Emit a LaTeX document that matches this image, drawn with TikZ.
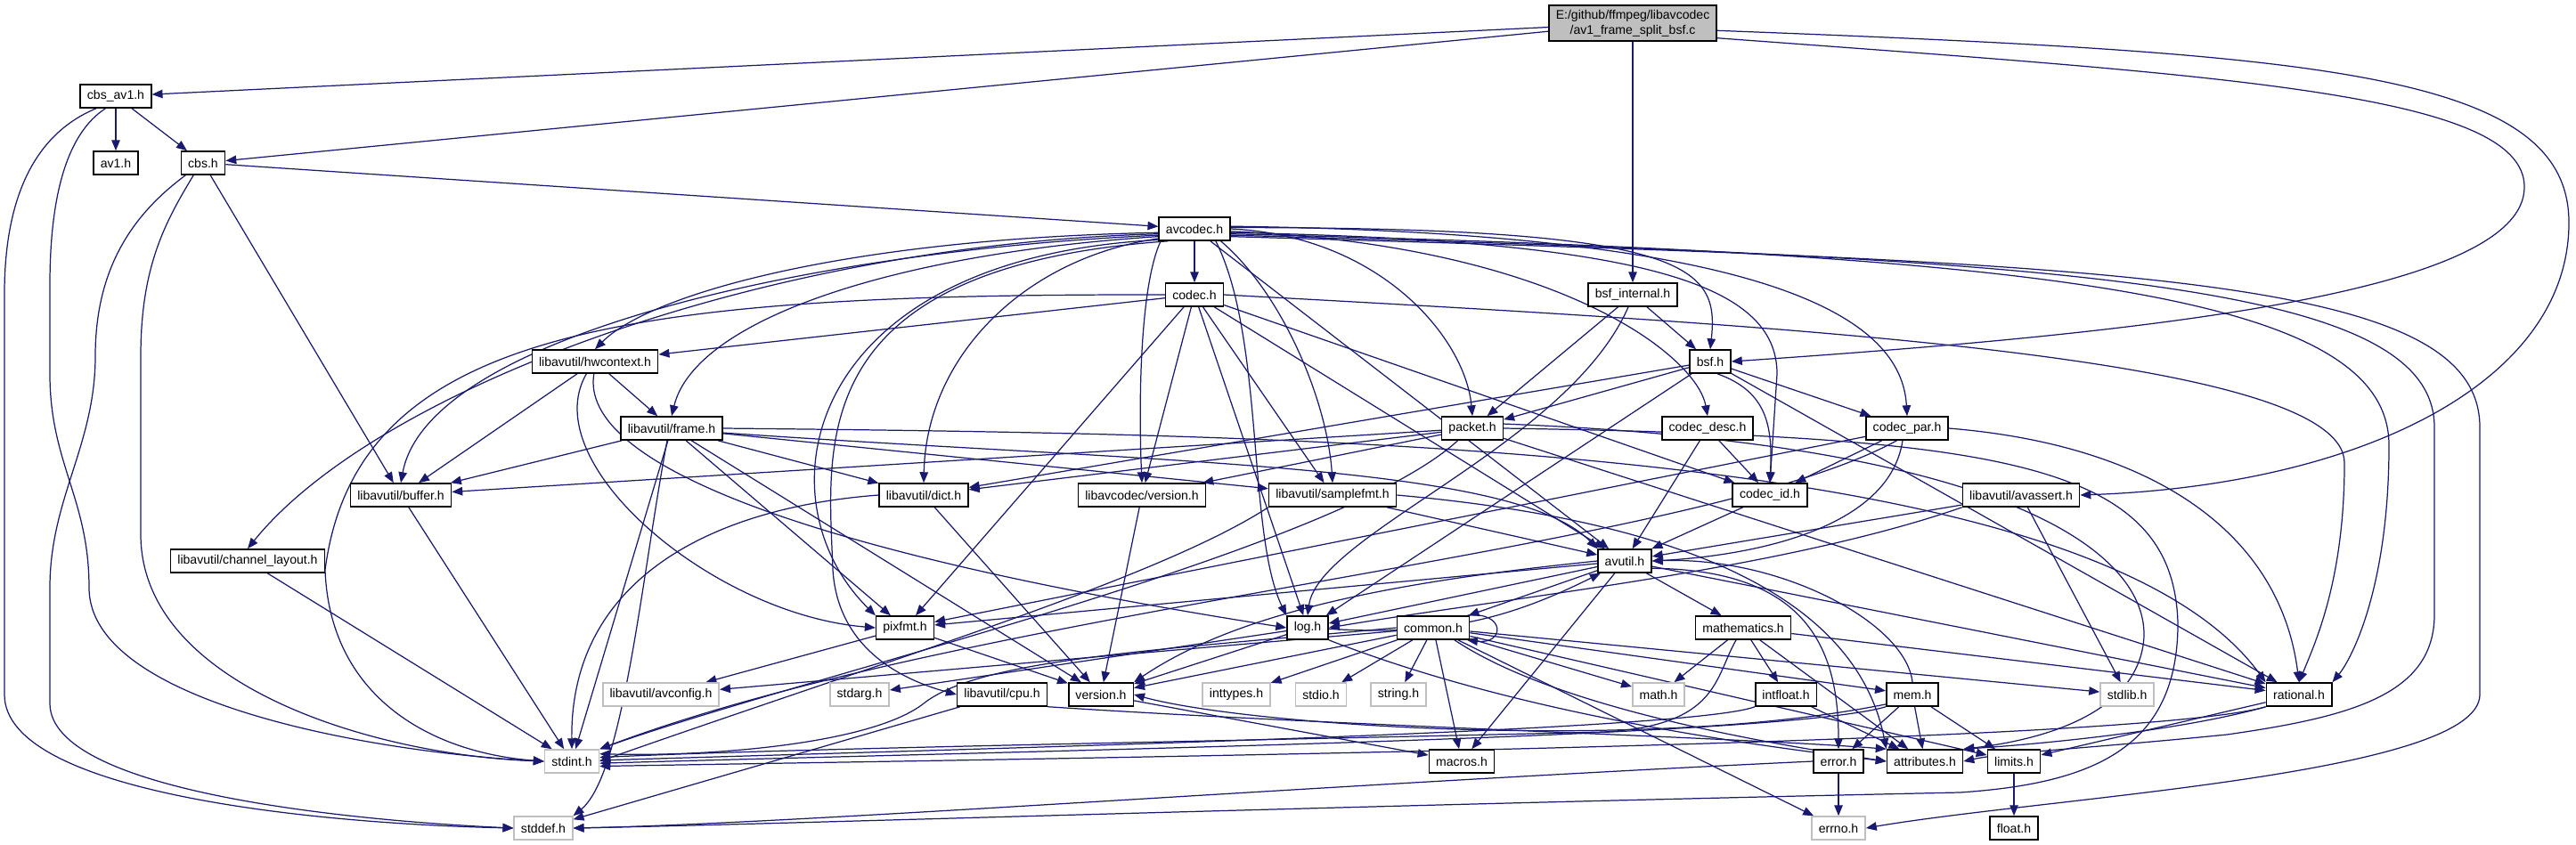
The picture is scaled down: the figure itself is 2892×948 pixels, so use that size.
\documentclass[tikz,border=0pt]{standalone}
\usepackage{fontspec}
\setmainfont{Liberation Sans}
\usetikzlibrary{arrows.meta,backgrounds}

\definecolor{edgeblue}{HTML}{191970}
\definecolor{sysgray}{HTML}{BFBFBF}

\begin{document}
\begin{tikzpicture}[font=\fontsize{4}{4.8}\selectfont,x=0.01cm,y=-0.01cm]
    \tikzset{
        file/.style={
            draw=black,
            fill=white,
            line width=0.45pt,
            minimum height=0.26cm,
            inner xsep=2.2pt,
            inner ysep=0pt
        },
        sysfile/.style={file,draw=sysgray},
        mainfile/.style={file,fill=sysgray,align=center,minimum height=0.40cm},
        dep/.style={draw=edgeblue,line width=0.35pt,-{Triangle[length=3.4pt,width=2.7pt]}}
    }

    \useasboundingbox (0,0) rectangle (2892,948);

    \node[mainfile] (root) at (1833,26)
        {E:/github/ffmpeg/libavcodec\\/av1\_frame\_split\_bsf.c};
    \node[file] (cbsav1) at (130,108) {cbs\_av1.h};
    \node[file] (avone) at (130,183) {av1.h};
    \node[file] (cbs) at (228,183) {cbs.h};
    \node[file] (avcodec) at (1341,257) {avcodec.h};
    \node[file] (codec) at (1341,331) {codec.h};
    \node[file] (bsfint) at (1833,331) {bsf\_internal.h};
    \node[file] (hwctx) at (668,406) {libavutil/hwcontext.h};
    \node[file] (bsf) at (1920,406) {bsf.h};
    \node[file] (frame) at (754,481) {libavutil/frame.h};
    \node[file] (packet) at (1653,481) {packet.h};
    \node[file] (cdesc) at (1917,481) {codec\_desc.h};
    \node[file] (cpar) at (2141,481) {codec\_par.h};
    \node[file] (buffer) at (450,556) {libavutil/buffer.h};
    \node[file] (dict) at (1037,556) {libavutil/dict.h};
    \node[file] (lversion) at (1282,556) {libavcodec/version.h};
    \node[file] (sfmt) at (1496,556) {libavutil/samplefmt.h};
    \node[file] (cid) at (1987,556) {codec\_id.h};
    \node[file] (avassert) at (2269,556) {libavutil/avassert.h};
    \node[file] (chlayout) at (278,630) {libavutil/channel\_layout.h};
    \node[file] (avutil) at (1824,630) {avutil.h};
    \node[file] (pixfmt) at (1016,705) {pixfmt.h};
    \node[file] (log) at (1468,705) {log.h};
    \node[file] (common) at (1609,705) {common.h};
    \node[file] (mathem) at (1957,705) {mathematics.h};
    \node[sysfile] (avconfig) at (742,780) {libavutil/avconfig.h};
    \node[sysfile] (stdarg) at (965,780) {stdarg.h};
    \node[file] (cpu) at (1125,780) {libavutil/cpu.h};
    \node[file] (version) at (1236,780) {version.h};
    \node[sysfile] (inttypes) at (1388,780) {inttypes.h};
    \node[sysfile] (stdio) at (1483,780) {stdio.h};
    \node[sysfile] (string) at (1570,780) {string.h};
    \node[sysfile] (mathh) at (1862,780) {math.h};
    \node[file] (intfloat) at (2005,780) {intfloat.h};
    \node[file] (mem) at (2147,780) {mem.h};
    \node[sysfile] (stdlib) at (2388,780) {stdlib.h};
    \node[file] (rational) at (2581,780) {rational.h};
    \node[sysfile] (stdint) at (642,855) {stdint.h};
    \node[file] (macros) at (1641,855) {macros.h};
    \node[file] (error) at (2064,855) {error.h};
    \node[file] (attrs) at (2161,855) {attributes.h};
    \node[file] (limits) at (2261,855) {limits.h};
    \node[sysfile] (stddef) at (610,930) {stddef.h};
    \node[sysfile] (errno) at (2064,930) {errno.h};
    \node[file] (float) at (2261,930) {float.h};

    \begin{scope}[on background layer]
    \fill[white] (0,0) rectangle (2892,948);

    % av1_frame_split_bsf.c
    \draw[dep] (root) -- (cbsav1);
    \draw[dep] (root) -- (cbs);
    \draw[dep] (root) -- (bsfint);
    \draw[dep] (root.350) .. controls (2500,85) and (2834,105) .. (2834,210)
        .. controls (2834,330) and (2400,375) .. (bsf.east);
    \draw[dep] (root.355) .. controls (2600,60) and (2884,80) .. (2884,250)
        .. controls (2884,430) and (2650,545) .. (avassert.east);

    % cbs_av1.h, cbs.h
    \draw[dep] (cbsav1) -- (avone);
    \draw[dep] (cbsav1) -- (cbs);
    \draw[dep] (cbsav1.212) .. controls (40,150) and (5,220) .. (5,330) -- (5,780)
        .. controls (5,890) and (350,925) .. (stddef.west);
    \draw[dep] (cbsav1.230) .. controls (75,150) and (56,220) .. (56,320) -- (56,420)
        .. controls (56,520) and (100,560) .. (100,660)
        .. controls (100,790) and (420,845) .. (stdint.west);
    \draw[dep] (cbs) -- (avcodec);
    \draw[dep] (cbs) -- (buffer);
    \draw[dep] (cbs.215) .. controls (150,240) and (107,300) .. (107,400)
        .. controls (107,500) and (56,560) .. (56,660) -- (56,790)
        .. controls (56,890) and (400,922) .. (stddef.west);
    \draw[dep] (cbs.232) .. controls (185,250) and (158,300) .. (158,400) -- (158,600)
        .. controls (158,770) and (420,848) .. (stdint.west);

    % avcodec.h
    \draw[dep] (avcodec) -- (codec);
    \draw[dep] (avcodec.186) .. controls (950,268) and (730,330) .. (hwctx.north);
    \draw[dep] (avcodec.188) .. controls (850,275) and (420,440) .. (chlayout.north);
    \draw[dep] (avcodec.190) .. controls (900,282) and (480,380) .. (buffer.north);
    \draw[dep] (avcodec.192) .. controls (1000,285) and (780,360) .. (frame.north);
    \draw[dep] (avcodec.195) .. controls (1150,290) and (1040,400) .. (dict.north);
    \draw[dep] (avcodec.197) .. controls (900,290) and (850,560) .. (pixfmt.north west);
    \draw[dep] (avcodec.205) .. controls (900,300) and (930,500) .. (935,640)
        .. controls (940,720) and (1000,760) .. (cpu.west);
    \draw[dep] (avcodec.330) .. controls (1420,380) and (1400,600) .. (log.north west);
    \draw[dep] (avcodec.200) .. controls (1280,320) and (1278,450) .. (lversion.north);
    \draw[dep] (avcodec.335) .. controls (1440,330) and (1490,450) .. (sfmt.north);
    \draw[dep] (avcodec) -- (avutil);
    \draw[dep] (avcodec.east) .. controls (1550,265) and (1645,380) .. (packet.north);
    \draw[dep] (avcodec.2) .. controls (1900,255) and (1930,300) .. (bsf.north);
    \draw[dep] (avcodec.356) .. controls (1750,275) and (1905,400) .. (cdesc.north);
    \draw[dep] (avcodec.354) .. controls (1850,270) and (1995,320) .. (1995,420) -- (cid.north);
    \draw[dep] (avcodec.4) .. controls (2000,262) and (2135,360) .. (cpar.north);
    \draw[dep] (avcodec.352) .. controls (2300,285) and (2682,330) .. (2682,500)
        .. controls (2682,660) and (2640,740) .. (rational.north east);
    \draw[dep] (avcodec.350) .. controls (2350,290) and (2733,320) .. (2733,480) -- (2733,690)
        .. controls (2733,780) and (2640,805) .. (2500,825)
        .. controls (2350,840) and (2250,845) .. (attrs.east);
    \draw[dep] (avcodec.348) .. controls (2400,295) and (2784,310) .. (2784,480) -- (2784,780)
        .. controls (2784,870) and (2300,895) .. (errno.east);

    % codec.h
    \draw[dep] (codec) -- (hwctx);
    \draw[dep] (codec.west) .. controls (700,330) and (400,370) .. (365,640)
        .. controls (370,780) and (480,845) .. (stdint.west);
    \draw[dep] (codec) -- (pixfmt);
    \draw[dep] (codec) -- (lversion);
    \draw[dep] (codec) -- (log);
    \draw[dep] (codec) -- (sfmt);
    \draw[dep] (codec) -- (avutil);
    \draw[dep] (codec) -- (cid);
    \draw[dep] (codec.east) .. controls (2000,365) and (2632,400) .. (2632,520)
        .. controls (2632,650) and (2600,720) .. (rational.north);

    % bsf_internal.h, bsf.h
    \draw[dep] (bsfint) -- (bsf);
    \draw[dep] (bsfint) -- (packet);
    \draw[dep] (bsfint.250) .. controls (1760,500) and (1480,600) .. (log.north);
    \draw[dep] (bsf) -- (packet);
    \draw[dep] (bsf) -- (dict);
    \draw[dep] (bsf) -- (log);
    \draw[dep] (bsf.300) .. controls (1985,440) and (1990,480) .. (cid.north);
    \draw[dep] (bsf) -- (cpar);
    \draw[dep] (bsf) -- (rational);

    % libavutil/hwcontext.h, libavutil/frame.h
    \draw[dep] (hwctx) -- (frame);
    \draw[dep] (hwctx) -- (buffer);
    \draw[dep] (hwctx.235) .. controls (600,520) and (800,690) .. (pixfmt.west);
    \draw[dep] (hwctx.265) .. controls (650,520) and (900,620) .. (log.west);
    \draw[dep] (frame) -- (buffer);
    \draw[dep] (frame) -- (dict);
    \draw[dep] (frame) -- (sfmt);
    \draw[dep] (frame.355) .. controls (1300,520) and (1700,520) .. (avutil.north west);
    \draw[dep] (frame) -- (pixfmt);
    \draw[dep] (frame) -- (version);
    \draw[dep] (frame.east) .. controls (1500,488) and (2350,500) .. (rational.north west);
    \draw[dep] (frame) -- (stdint);
    \draw[dep] (frame.250) .. controls (720,650) and (700,870) .. (stddef.north east);

    % packet.h, codec_desc.h, codec_par.h
    \draw[dep] (packet) -- (buffer);
    \draw[dep] (packet) -- (dict);
    \draw[dep] (packet) -- (lversion);
    \draw[dep] (packet.220) .. controls (1500,620) and (900,760) .. (stdint.north east);
    \draw[dep] (packet.east) .. controls (2250,490) and (2440,520) .. (2445,700)
        .. controls (2445,840) and (2350,880) .. (2200,890)
        .. controls (1500,905) and (900,925) .. (stddef.east);
    \draw[dep] (packet.8) .. controls (2300,500) and (2425,640) .. (2405,730)
        .. controls (2390,800) and (2300,830) .. (attrs.north east);
    \draw[dep] (packet) -- (rational);
    \draw[dep] (cdesc) -- (cid);
    \draw[dep] (cdesc) -- (avutil);
    \draw[dep] (cpar) -- (cid);
    \draw[dep] (cpar.250) .. controls (2120,600) and (1950,625) .. (avutil.east);
    \draw[dep] (cpar) -- (pixfmt);
    \draw[dep] (cpar.east) .. controls (2420,500) and (2560,600) .. (rational.north);
    \draw[dep] (cpar.230) .. controls (1900,620) and (1100,680) .. (stdint.north east);

    % second level of libavutil
    \draw[dep] (buffer) -- (stdint);
    \draw[dep] (dict.west) .. controls (800,570) and (640,650) .. (stdint.north);
    \draw[dep] (dict) -- (version);
    \draw[dep] (lversion) -- (version);
    \draw[dep] (sfmt) -- (avutil);
    \draw[dep] (sfmt.east) .. controls (1950,590) and (2090,700) .. (attrs.north west);
    \draw[dep] (sfmt.south west) .. controls (1300,650) and (1000,740) .. (stdint.east);
    \draw[dep] (cid) -- (avutil);
    \draw[dep] (avassert) -- (avutil);
    \draw[dep] (avassert.south west) .. controls (2000,640) and (1700,670) .. (log.east);
    \draw[dep] (avassert) -- (stdlib);
    \draw[dep] (chlayout) -- (stdint);

    % avutil.h
    \draw[dep] (avutil) -- (common);
    \draw[dep] (avutil.345) .. controls (2030,640) and (2064,730) .. (error.north);
    \draw[dep] (avutil) -- (rational);
    \draw[dep] (avutil.west) .. controls (1600,650) and (1400,680) .. (version.north east);
    \draw[dep] (avutil) -- (macros);
    \draw[dep] (avutil) -- (mathem);
    \draw[dep] (avutil) -- (log);
    \draw[dep] (avutil) -- (pixfmt);

    % pixfmt.h, log.h
    \draw[dep] (pixfmt) -- (avconfig);
    \draw[dep] (pixfmt) -- (version);
    \draw[dep] (log) to[bend right=15] (avutil);
    \draw[dep] (log) -- (stdarg);
    \draw[dep] (log) -- (version);
    \draw[dep] (log.south east) .. controls (1700,800) and (1950,835) .. (attrs.west);

    % common.h
    \draw[dep] (common.20) .. controls (1690,686) and (1690,724) .. (common.340);
    \draw[dep] (common) -- (errno);
    \draw[dep] (common) -- (inttypes);
    \draw[dep] (common) -- (limits);
    \draw[dep] (common) -- (mathh);
    \draw[dep] (common.west) .. controls (1300,730) and (1100,740) .. (1037,790)
        .. controls (980,835) and (800,850) .. (stdint.15);
    \draw[dep] (common) -- (stdio);
    \draw[dep] (common) -- (stdlib);
    \draw[dep] (common) -- (string);
    \draw[dep] (common.330) .. controls (1740,790) and (1950,830) .. (attrs.west);
    \draw[dep] (common) -- (macros);
    \draw[dep] (common) -- (version);
    \draw[dep] (common) -- (avconfig);
    \draw[dep] (common) -- (mem);

    % mathematics.h
    \draw[dep] (mathem) -- (mathh);
    \draw[dep] (mathem) -- (intfloat);
    \draw[dep] (mathem) -- (attrs);
    \draw[dep] (mathem) -- (rational);
    \draw[dep] (mathem.240) .. controls (1925,760) and (1930,815) .. (1800,822)
        .. controls (1400,832) and (900,840) .. (stdint.8);

    % lower files
    \draw[dep] (cpu) -- (stddef);
    \draw[dep] (cpu.345) .. controls (1500,815) and (1950,828) .. (attrs.north west);
    \draw[dep] (version) -- (macros);
    \draw[dep] (intfloat) -- (attrs);
    \draw[dep] (intfloat.south west) .. controls (1900,820) and (1200,838) .. (stdint.2);
    \draw[dep] (mem) -- (limits);
    \draw[dep] (mem) -- (attrs);
    \draw[dep] (mem) -- (error);
    \draw[dep] (mem.north) .. controls (2140,700) and (2000,625) .. (avutil.east);
    \draw[dep] (mem.200) .. controls (1850,845) and (1400,815) .. (version.east);
    \draw[dep] (mem.south west) .. controls (2000,828) and (1200,842) .. (stdint.356);
    \draw[dep] (rational) -- (limits);
    \draw[dep] (rational.south west) .. controls (2450,820) and (2300,835) .. (attrs.north east);
    \draw[dep] (rational.south west) .. controls (2400,835) and (1300,850) .. (stdint.350);
    \draw[dep] (error) -- (errno);
    \draw[dep] (error.west) .. controls (1500,880) and (900,925) .. (stddef.east);
    \draw[dep] (limits) -- (float);
    \end{scope}
\end{tikzpicture}
\end{document}
